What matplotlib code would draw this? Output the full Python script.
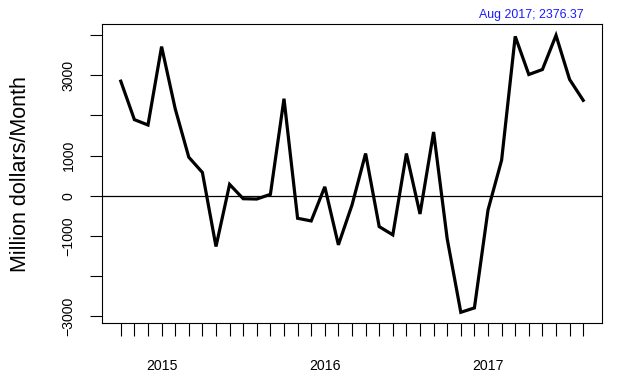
import numpy as np
import pandas as pd
import matplotlib
matplotlib.use("Agg")
import matplotlib.pyplot as plt

plt.rcParams['font.family'] = ['Liberation Sans', 'DejaVu Sans']

# monthly values, Oct 2014 .. Aug 2017
months = pd.period_range('2014-10', '2017-08', freq='M')
values = [2854, 1896, 1762, 3715, 2169, 960, 580, -1265, 283, -74,
          -82, 35, 2417, -561, -628, 223, -1223, -231, 1052, -769,
          -975, 1052, -454, 1588, -1074, -2903, -2794, -355, 886, 3970,
          3020, 3144, 3995, 2896, 2376.37]
year_labels = ['2015', '2016', '2017']
yticks = [4000, 3000, 2000, 1000, 0, -1000, -2000, -3000]
ytick_labels = ['', '3000', '', '1000', '0', '\u22121000', '', '\u22123000']

x = np.arange(len(months))

fig = plt.figure(figsize=(6.26, 3.76), dpi=100)
ax = fig.add_axes([0.1634, 0.140, 0.7978, 0.7954])

ax.plot(x, values, color='black', lw=2.3, solid_joinstyle='miter')
ax.axhline(0, color='black', lw=0.9)

n = len(x)
ax.set_xlim(-0.04 * (n - 1), (n - 1) * 1.04)
lo, hi = min(values), max(values)
pad = 0.04 * (hi - lo)
ax.set_ylim(lo - pad, hi + pad)

# month ticks, year labels on January
jan = [i for i, m in enumerate(months) if m.month == 1]
xlabels = [''] * n
for i, lab in zip(jan, year_labels):
    xlabels[i] = lab
ax.set_xticks(x)
ax.set_xticklabels(xlabels)
ax.tick_params(axis='x', length=9.6, width=0.8, pad=16, labelsize=10.2)

ax.set_yticks(yticks)
ax.set_yticklabels(ytick_labels, rotation=90, va='center')
ax.tick_params(axis='y', length=8.8, width=0.8, pad=10.5, labelsize=10.2)

for s in ax.spines.values():
    s.set_linewidth(0.8)

ax.set_ylabel('Million dollars/Month', fontsize=15.5)
ax.yaxis.set_label_coords(-0.142, 0.5)

ax.text(x[-1], 1.012, 'Aug 2017; %.2f' % values[-1],
        transform=ax.get_xaxis_transform(), ha='right', va='bottom',
        color='#1a1aff', fontsize=8.9)

fig.savefig('out.png', dpi=100)
